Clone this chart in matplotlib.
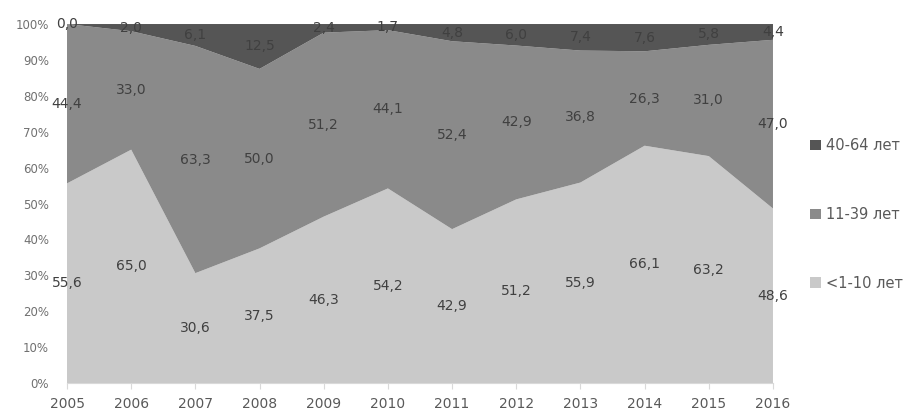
import matplotlib
matplotlib.use("Agg")
import matplotlib.pyplot as plt
import numpy as np

years = [2005, 2006, 2007, 2008, 2009, 2010, 2011, 2012, 2013, 2014, 2015, 2016]
young = [55.6, 65.0, 30.6, 37.5, 46.3, 54.2, 42.9, 51.2, 55.9, 66.1, 63.2, 48.6]
middle = [44.4, 33.0, 63.3, 50.0, 51.2, 44.1, 52.4, 42.9, 36.8, 26.3, 31.0, 47.0]
older = [0.0, 2.0, 6.1, 12.5, 2.4, 1.7, 4.8, 6.0, 7.4, 7.6, 5.8, 4.4]
series_names = ["<1-10 лет", "11-39 лет", "40-64 лет"]
colors = ["#c9c9c9", "#8a8a8a", "#555555"]

plt.rcParams["font.family"] = ["DejaVu Sans"]

fig = plt.figure(figsize=(9.08, 4.12), dpi=100)
ax = fig.add_axes([0.0738, 0.0704, 0.7775, 0.8713])

data = np.array([young, middle, older])
totals = data.sum(axis=0)
shares = data / totals * 100
x = np.arange(len(years))

ax.stackplot(x, shares, colors=colors, labels=series_names, linewidth=0)

# value labels centred in each band
bottom = np.zeros(len(years))
for vals, share in zip(data, shares):
    for i in range(len(years)):
        y = bottom[i] + share[i] / 2
        ax.text(x[i], y, f"{vals[i]:.1f}".replace(".", ","), ha="center", va="center",
                fontsize=10, color="#404040")
    bottom += share

ax.set_xlim(0, len(years) - 1)
ax.set_ylim(0, 100)
ax.set_xticks(x)
ax.set_xticklabels([str(y) for y in years], fontsize=10, color="#595959")
ax.set_yticks(np.arange(0, 101, 10))
ax.set_yticklabels([f"{v}%" for v in range(0, 101, 10)], fontsize=8.5, color="#707070")
for s in ["top", "right", "left"]:
    ax.spines[s].set_visible(False)
ax.spines["bottom"].set_color("#d9d9d9")
ax.tick_params(axis="y", length=0, pad=13)
ax.tick_params(axis="x", length=4, color="#d9d9d9", pad=6)

handles, labels = ax.get_legend_handles_labels()
leg = fig.legend(handles[::-1], labels[::-1], loc="center left",
                 bbox_to_anchor=(0.878, 0.48), frameon=False, fontsize=10.5,
                 handlelength=0.7, handleheight=0.7, labelspacing=3.7,
                 handletextpad=0.4)
for t in leg.get_texts():
    t.set_color("#595959")

fig.savefig("out.png", dpi=100)
